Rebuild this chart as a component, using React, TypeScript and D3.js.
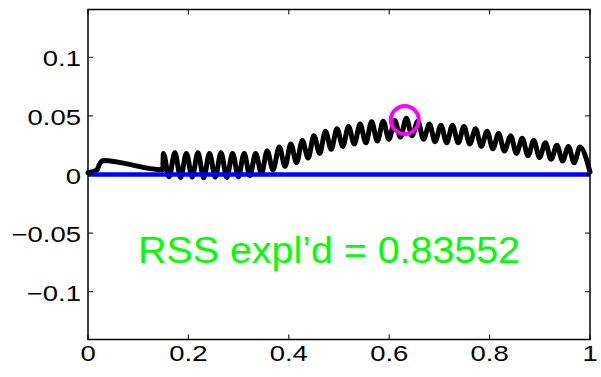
import React from "react";
import * as d3 from "d3";

// Black signal: explicit (x, y) points
const signalX = [
  0.0, 0.018, 0.022, 0.03, 0.149,
  0.150, 0.1615, 0.173, 0.1845, 0.196, 0.2075, 0.219, 0.2305, 0.242, 0.2535,
  0.265, 0.2765, 0.288, 0.2995, 0.311, 0.3225, 0.334, 0.3455, 0.357, 0.3685,
  0.381, 0.3925, 0.404, 0.4155, 0.427, 0.4385, 0.450, 0.4615, 0.473, 0.4845,
  0.496, 0.5075, 0.519, 0.5305, 0.542, 0.5535, 0.565, 0.5765, 0.588, 0.5995,
  0.611, 0.6225, 0.634, 0.6455, 0.657, 0.6685, 0.680, 0.6915, 0.703, 0.7145,
  0.726, 0.7375, 0.749, 0.7605, 0.772, 0.7835, 0.795, 0.8065, 0.818, 0.8295,
  0.842, 0.8535, 0.865, 0.8765, 0.888, 0.8995, 0.911, 0.9225, 0.934, 0.9455,
  0.957, 0.9685, 0.980, 1.0,
];
const signalY = [
  0.0015, 0.004, 0.008, 0.012, 0.004,
  0.018, -0.002, 0.0185, -0.0025, 0.018, -0.0022, 0.0185, -0.0028, 0.018, -0.0022,
  0.0185, -0.0025, 0.018, -0.002, 0.018, -0.001, 0.018, 0.001, 0.020, 0.004,
  0.0235, 0.007, 0.026, 0.010, 0.029, 0.014, 0.033, 0.018, 0.037, 0.0215,
  0.039, 0.024, 0.041, 0.026, 0.043, 0.027, 0.045, 0.0285, 0.0455, 0.030,
  0.046, 0.032, 0.048, 0.033, 0.0455, 0.030, 0.043, 0.028, 0.042, 0.027,
  0.042, 0.027, 0.041, 0.026, 0.039, 0.024, 0.037, 0.022, 0.035, 0.020,
  0.033, 0.018, 0.031, 0.016, 0.029, 0.0145, 0.027, 0.013, 0.025, 0.0115,
  0.024, 0.010, 0.0235, 0.002,
];

// Blue baseline
const baseX = [0, 1];
const baseY = [0, 0];

// Marker at the maximum
const markerX = [0.631];
const markerY = [0.0465];

const xTicks = [0, 0.2, 0.4, 0.6, 0.8, 1];
const xTickLabels = ["0", "0.2", "0.4", "0.6", "0.8", "1"];
const yTicks = [-0.1, -0.05, 0, 0.05, 0.1];
const yTickLabels = ["\u22120.1", "\u22120.05", "0", "0.05", "0.1"];

const annotation = "RSS expl\u2019d = 0.83552";

const W = 601;
const H = 377;
const L = 88;
const R = 590;
const T = 9.5;
const B = 339.5;

export default function App() {
  const x = d3.scaleLinear().domain([0, 1]).range([L, R]);
  const y = d3.scaleLinear().domain([-0.1408, 0.1408]).range([B, T]);

  const pts = signalX.map((v, i) => [v, signalY[i]] as [number, number]);
  const line = d3
    .line<[number, number]>()
    .x((d) => x(d[0]))
    .y((d) => y(d[1]))
    .curve(d3.curveMonotoneX);
  const basePts = baseX.map((v, i) => [v, baseY[i]] as [number, number]);
  const baseLine = d3
    .line<[number, number]>()
    .x((d) => x(d[0]))
    .y((d) => y(d[1]));

  const font = "'Liberation Sans', Arial, Helvetica, sans-serif";
  const tickLen = 5;

  return (
    <svg
      width={W}
      height={H}
      style={{ position: "absolute", left: 0, top: 0, background: "#fff" }}
    >
      <rect x={0} y={0} width={W} height={H} fill="#fff" />
      <g>
        <path
          d={line(pts) || ""}
          fill="none"
          stroke="#000"
          strokeWidth={5}
          strokeLinejoin="round"
          strokeLinecap="round"
        />
        <path d={baseLine(basePts) || ""} fill="none" stroke="#0000ff" strokeWidth={4.5} />
        {markerX.map((mx, i) => (
          <circle
            key={i}
            cx={x(mx)}
            cy={y(markerY[i])}
            r={14}
            fill="none"
            stroke="#ff00ff"
            strokeWidth={4}
          />
        ))}
      </g>
      {/* frame */}
      <rect x={L} y={T} width={R - L} height={B - T} fill="none" stroke="#000" strokeWidth={1.5} />
      {/* ticks */}
      {xTicks.map((t, i) => (
        <g key={"xt" + i}>
          <line x1={x(t)} x2={x(t)} y1={B} y2={B - tickLen} stroke="#000" strokeWidth={1} />
          <line x1={x(t)} x2={x(t)} y1={T} y2={T + tickLen} stroke="#000" strokeWidth={1} />
          <g transform={`translate(${x(t)},${361}) scale(1.22,1)`}>
            <text x={0} y={0} textAnchor="middle" fontFamily={font} fontSize={22.5} fill="#000">
              {xTickLabels[i]}
            </text>
          </g>
        </g>
      ))}
      {yTicks.map((t, i) => (
        <g key={"yt" + i}>
          <line x1={L} x2={L + tickLen} y1={y(t)} y2={y(t)} stroke="#000" strokeWidth={1} />
          <line x1={R} x2={R - tickLen} y1={y(t)} y2={y(t)} stroke="#000" strokeWidth={1} />
          <g transform={`translate(${81},${y(t) + 9}) scale(1.22,1)`}>
            <text x={0} y={0} textAnchor="end" fontFamily={font} fontSize={22.5} fill="#000">
              {yTickLabels[i]}
            </text>
          </g>
        </g>
      ))}
      <text
        x={138}
        y={263}
        fontFamily={font}
        fontSize={37}
        fill="#00ff00"
        textLength={382}
        lengthAdjust="spacingAndGlyphs"
      >
        {annotation}
      </text>
    </svg>
  );
}
